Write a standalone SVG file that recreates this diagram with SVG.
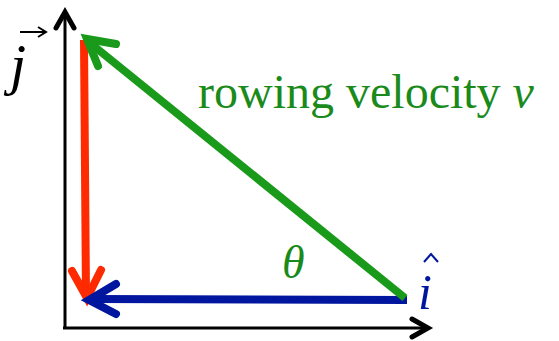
<svg xmlns="http://www.w3.org/2000/svg" width="559" height="341" viewBox="0 0 559 341">
<style>
.axis{stroke:#000;stroke-width:3;fill:none}
.axhead{stroke:#000;stroke-width:5;fill:none;stroke-linecap:round;stroke-linejoin:miter}
.vec{stroke-width:8;fill:none;stroke-linecap:butt}
.head{stroke-width:8;fill:none;stroke-linecap:round;stroke-linejoin:miter}
.lbl{font-family:"Liberation Serif",serif}
</style>
<rect width="559" height="341" fill="#fff"/>
<g id="axes">
<line class="axis" x1="65" y1="328" x2="65" y2="12"/>
<polyline class="axhead" points="56,28 65,12 74,28"/>
<line class="axis" x1="63" y1="328" x2="428" y2="328"/>
<polyline class="axhead" points="412,319 428,328 412,337"/>
</g>
<g id="connectors">
<g id="red">
<line class="vec" stroke="#ff2a00" x1="84" y1="40" x2="86" y2="296"/>
<polyline class="head" stroke="#ff2a00" points="72,271 87,298 101,270"/>
</g>
<g id="blue">
<line class="vec" stroke="#00169e" x1="407" y1="300" x2="92" y2="299"/>
<polyline class="head" stroke="#00169e" points="116,284 89,300 116,314"/>
</g>
<g id="green">
<line class="vec" stroke="#1a9a1a" x1="405" y1="298" x2="90" y2="43"/>
<polyline class="head" stroke="#1a9a1a" points="116,44 87,39 98,66"/>
</g>
</g>
<g id="label-j">
<text class="lbl" x="10" y="84" font-size="58" font-style="italic">j</text>
<line x1="20" y1="32" x2="46" y2="32" stroke="#000" stroke-width="2"/>
<polyline points="38,27 46,32 38,37" stroke="#000" stroke-width="2" fill="none"/>
</g>
<g id="label-i">
<text class="lbl" x="418" y="309" font-size="50" font-style="italic" fill="#00169e">i</text>
<polyline points="424,262 431,254 438,262" stroke="#00169e" stroke-width="2" fill="none"/>
</g>
<g id="label-v">
<text class="lbl" x="198" y="108" font-size="48" fill="#1a8a1a">rowing velocity <tspan font-style="italic">v</tspan></text>
</g>
<g id="label-theta">
<text class="lbl" x="282" y="278" font-size="46" font-style="italic" fill="#1a8a1a">θ</text>
</g>
</svg>
